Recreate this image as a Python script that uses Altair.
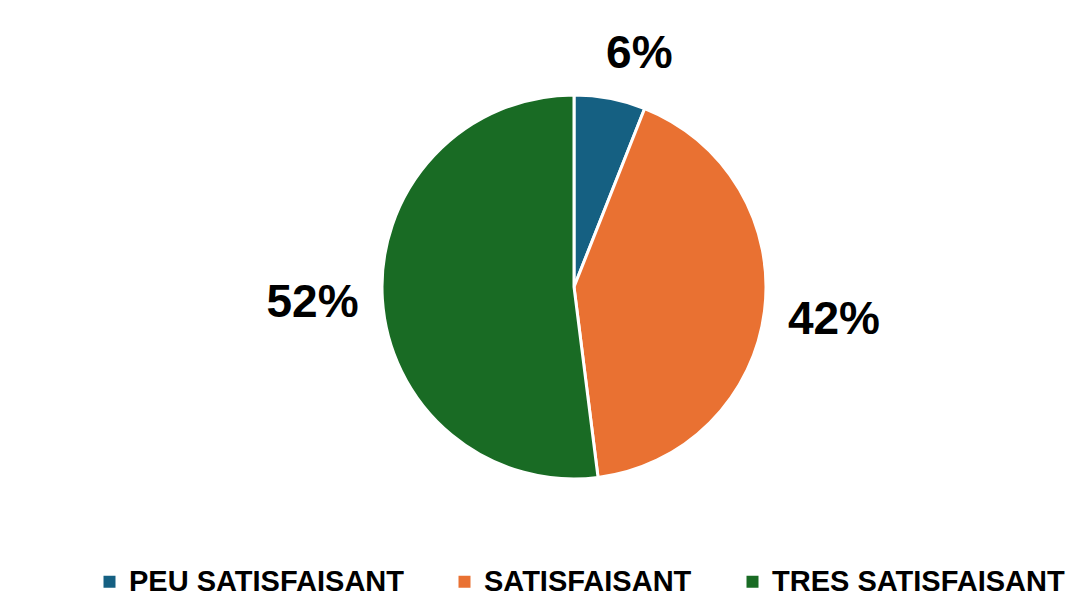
import altair as alt
import pandas as pd

categories = ["PEU SATISFAISANT", "SATISFAISANT", "TRES SATISFAISANT"]
values = [6, 42, 52]
colors = ["#156082", "#E97132", "#196B24"]

df = pd.DataFrame({"cat": categories, "val": values, "idx": list(range(len(values)))})

FONT = "Liberation Sans"

pie = alt.Chart(df).mark_arc(outerRadius=192, stroke="white", strokeWidth=3).encode(
    theta=alt.Theta("val:Q", stack=True),
    order=alt.Order("idx:Q"),
    color=alt.Color(
        "cat:N",
        scale=alt.Scale(domain=categories, range=colors),
        sort=categories,
        legend=alt.Legend(
            title=None,
            orient="none",
            direction="horizontal",
            legendX=21,
            legendY=559,
            symbolType="square",
            symbolSize=144,
            symbolStrokeWidth=0,
            labelFont=FONT,
            labelFontSize=29,
            labelFontWeight="bold",
            labelColor="#000000",
            labelOffset=5,
            columnPadding=46,
            labelLimit=400,
        ),
    ),
)

labels_big = alt.Chart(df).transform_calculate(lbl="datum.val + '%'").mark_text(
    radius=262, font=FONT, fontSize=46, fontWeight="bold", color="#000000"
).encode(
    theta=alt.Theta("val:Q", stack=True),
    order=alt.Order("idx:Q"),
    text="lbl:N",
    opacity=alt.condition("datum.val >= 10", alt.value(1), alt.value(0)),
)

labels_small = alt.Chart(df).transform_calculate(lbl="datum.val + '%'").mark_text(
    radius=242, dx=20, dy=5, font=FONT, fontSize=46, fontWeight="bold", color="#000000"
).encode(
    theta=alt.Theta("val:Q", stack=True),
    order=alt.Order("idx:Q"),
    text="lbl:N",
    opacity=alt.condition("datum.val < 10", alt.value(1), alt.value(0)),
)

chart = alt.layer(pie, labels_big, labels_small).properties(
    width=1000,
    height=558,
    padding={"left": 66, "top": 0, "right": 1, "bottom": 32},
    autosize=alt.AutoSizeParams(type="none"),
    background="white",
).configure_view(stroke=None)

chart.save("out.html", embed_options={"renderer": "svg", "actions": False})
